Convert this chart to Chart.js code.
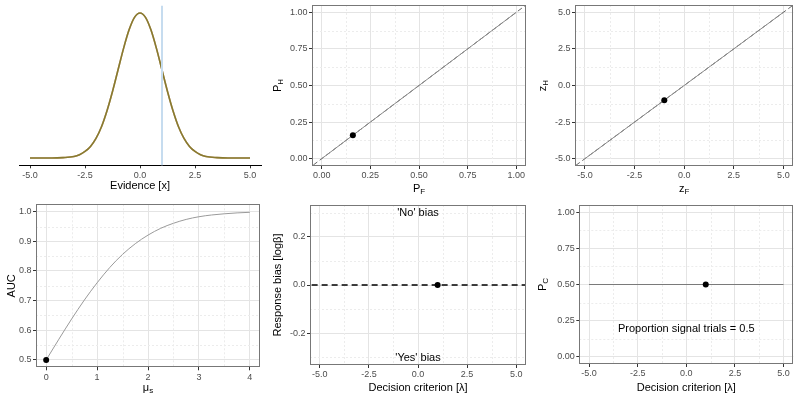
<!DOCTYPE html>
<html lang="en">
<head>
  <meta charset="UTF-8">
  <title>SDT panels</title>
  <style>
    html, body { margin: 0; padding: 0; background: #fff; }
    body { width: 800px; height: 400px; position: relative; overflow: hidden; }
    .panel { position: absolute; }
  </style>
</head>
<body>
  <div class="panel" style="left:0;top:0;width:265px;height:200px"><canvas id="density"></canvas></div>
  <div class="panel" style="left:265px;top:0;width:265px;height:200px"><canvas id="roc"></canvas></div>
  <div class="panel" style="left:530px;top:0;width:270px;height:200px"><canvas id="zroc"></canvas></div>
  <div class="panel" style="left:0;top:200px;width:265px;height:200px"><canvas id="auc"></canvas></div>
  <div class="panel" style="left:265px;top:200px;width:265px;height:200px"><canvas id="bias"></canvas></div>
  <div class="panel" style="left:530px;top:200px;width:270px;height:200px"><canvas id="pc"></canvas></div>

  <script src="https://cdn.jsdelivr.net/npm/chart.js@4.4.0/dist/chart.umd.min.js"></script>
  <script>
    // evidence distributions (noise and signal sit on top of each other, d' = 0)
    const evidence = [-5, -4, -3.5, -3, -2.75, -2.5, -2.25, -2, -1.75, -1.5, -1.25, -1, -0.75, -0.5, -0.25, 0, 0.25, 0.5, 0.75, 1, 1.25, 1.5, 1.75, 2, 2.25, 2.5, 2.75, 3, 3.5, 4, 5];
    const noiseDensity = [0, 0, 0.001, 0.004, 0.009, 0.018, 0.032, 0.054, 0.086, 0.130, 0.183, 0.242, 0.301, 0.352, 0.387, 0.399, 0.387, 0.352, 0.301, 0.242, 0.183, 0.130, 0.086, 0.054, 0.032, 0.018, 0.009, 0.004, 0.001, 0, 0];
    const signalDensity = [0, 0, 0.001, 0.004, 0.009, 0.018, 0.032, 0.054, 0.086, 0.130, 0.183, 0.242, 0.301, 0.352, 0.387, 0.399, 0.387, 0.352, 0.301, 0.242, 0.183, 0.130, 0.086, 0.054, 0.032, 0.018, 0.009, 0.004, 0.001, 0, 0];
    const criterion = 1;

    // ROC and zROC
    const rocPF = [0, 1];
    const rocPH = [0, 1];
    const zrocF = [-5, 5];
    const zrocH = [-5, 5];
    const identity = [-10, 10];
    const pointPF = 0.16, pointPH = 0.16;
    const pointZF = -1, pointZH = -1;

    // AUC against mu_s
    const muS = [0, 0.25, 0.5, 0.75, 1, 1.25, 1.5, 1.75, 2, 2.25, 2.5, 2.75, 3, 3.25, 3.5, 3.75, 4];
    const aucValues = [0.5, 0.570, 0.638, 0.702, 0.760, 0.812, 0.856, 0.892, 0.921, 0.944, 0.961, 0.974, 0.983, 0.989, 0.993, 0.996, 0.998];
    const pointMu = 0, pointAuc = 0.5;

    // response bias and proportion correct against lambda
    const lambdaRange = [-5, 5];
    const logBeta = 0;
    const pcValues = [0.5, 0.5];
    const pointLogBeta = 0, pointPc = 0.5;

    // ticks
    const evidenceTicks = [-5, -2.5, 0, 2.5, 5];
    const evidenceLabels = ['-5.0', '-2.5', '0.0', '2.5', '5.0'];
    const evidenceMinor = [-3.75, -1.25, 1.25, 3.75];
    const probTicks = [0, 0.25, 0.5, 0.75, 1];
    const probLabels = ['0.00', '0.25', '0.50', '0.75', '1.00'];
    const probMinor = [0.125, 0.375, 0.625, 0.875];
    const muTicks = [0, 1, 2, 3, 4];
    const muLabels = ['0', '1', '2', '3', '4'];
    const muMinor = [0.5, 1.5, 2.5, 3.5];
    const aucTicks = [0.5, 0.6, 0.7, 0.8, 0.9, 1.0];
    const aucLabels = ['0.5', '0.6', '0.7', '0.8', '0.9', '1.0'];
    const aucMinor = [0.55, 0.65, 0.75, 0.85, 0.95];
    const biasTicks = [-0.2, 0, 0.2];
    const biasLabels = ['-0.2', '0.0', '0.2'];
    const biasMinor = [-0.3, -0.1, 0.1, 0.3];

    const FONT = '"Liberation Sans", Arial, sans-serif';
    Chart.defaults.font.family = FONT;
    Chart.defaults.animation = false;

    const xy = (xs, ys) => xs.map((x, i) => ({ x, y: ys[i] }));

    function axis(a, size, horizontal) {
      return {
        type: 'linear',
        min: a.min,
        max: a.max,
        afterBuildTicks: s => { s.ticks = a.ticks.map(v => ({ value: v })); },
        afterFit: s => {
          if (horizontal) s.height = size; else s.width = size;
          s.paddingTop = 0; s.paddingBottom = 0; s.paddingLeft = 0; s.paddingRight = 0;
        },
        grid: {
          display: true,
          drawOnChartArea: !a.bare,
          color: '#e4e4e4',
          lineWidth: 1,
          tickLength: 3,
          tickColor: '#333'
        },
        border: a.bare ? { display: true, color: '#000', width: 1 } : { display: false },
        ticks: {
          autoSkip: false,
          maxRotation: 0,
          color: '#4d4d4d',
          font: { size: 9 },
          padding: 1.5,
          callback: (v, i) => a.labels[i]
        }
      };
    }

    function drawTitle(ctx, parts, x, y, rotate) {
      const [main, sub] = parts;
      ctx.save();
      ctx.translate(x, y);
      if (rotate) ctx.rotate(-Math.PI / 2);
      ctx.font = '11px ' + FONT;
      const w1 = ctx.measureText(main).width;
      ctx.font = '8px ' + FONT;
      const w2 = sub ? ctx.measureText(sub).width : 0;
      const start = -(w1 + w2) / 2;
      ctx.fillStyle = '#000';
      ctx.textAlign = 'left';
      ctx.textBaseline = 'middle';
      ctx.font = '11px ' + FONT;
      ctx.fillText(main, start, 0);
      if (sub) {
        ctx.font = '8px ' + FONT;
        ctx.fillText(sub, start + w1, 3);
      }
      ctx.restore();
    }

    function panel(id, cfg) {
      const extras = {
        id: 'extras',
        beforeDatasetsDraw(chart) {
          const { ctx, chartArea: ca, scales } = chart;
          ctx.save();
          ctx.strokeStyle = '#ececec';
          ctx.lineWidth = 1;
          ctx.setLineDash([2, 2]);
          (cfg.x.minor || []).forEach(v => {
            const px = Math.round(scales.x.getPixelForValue(v)) + 0.5;
            ctx.beginPath(); ctx.moveTo(px, ca.top); ctx.lineTo(px, ca.bottom); ctx.stroke();
          });
          (cfg.y.minor || []).forEach(v => {
            const py = Math.round(scales.y.getPixelForValue(v)) + 0.5;
            ctx.beginPath(); ctx.moveTo(ca.left, py); ctx.lineTo(ca.right, py); ctx.stroke();
          });
          ctx.restore();
        },
        afterDatasetsDraw(chart) {
          if (!cfg.frame) return;
          const { ctx, chartArea: ca } = chart;
          ctx.save();
          ctx.strokeStyle = '#777';
          ctx.lineWidth = 1;
          ctx.strokeRect(Math.round(ca.left) + 0.5, Math.round(ca.top) + 0.5,
            Math.round(ca.right - ca.left) - 1, Math.round(ca.bottom - ca.top) - 1);
          ctx.restore();
        },
        afterDraw(chart) {
          const { ctx, chartArea: ca, scales } = chart;
          if (cfg.xTitle) drawTitle(ctx, cfg.xTitle, (ca.left + ca.right) / 2, scales.x.bottom - 7, false);
          if (cfg.yTitle) drawTitle(ctx, cfg.yTitle, scales.y.left + 7, (ca.top + ca.bottom) / 2, true);
          (cfg.notes || []).forEach(n => {
            ctx.save();
            ctx.font = '11px ' + FONT;
            ctx.fillStyle = '#000';
            ctx.textAlign = 'center';
            ctx.textBaseline = 'middle';
            ctx.fillText(n.text, scales.x.getPixelForValue(n.x), scales.y.getPixelForValue(n.y));
            ctx.restore();
          });
        }
      };

      new Chart(document.getElementById(id), {
        type: 'scatter',
        data: { datasets: cfg.datasets },
        options: {
          responsive: true,
          maintainAspectRatio: false,
          layout: { padding: cfg.pad },
          plugins: { legend: { display: false }, tooltip: { enabled: false } },
          scales: {
            x: axis(cfg.x, cfg.xHeight, true),
            y: cfg.y.hidden
              ? { display: false, min: cfg.y.min, max: cfg.y.max }
              : axis(cfg.y, cfg.yWidth, false)
          }
        },
        plugins: [extras]
      });
    }

    const line = (data, color, width, dash) => ({
      data, showLine: true, pointRadius: 0, borderColor: color, borderWidth: width,
      borderDash: dash || [], clip: 0
    });
    const dot = (x, y) => ({ data: [{ x, y }], pointRadius: 3, backgroundColor: '#000', borderWidth: 0 });

    // 1. evidence distributions
    panel('density', {
      pad: { left: 19, top: 5.7, right: 4, bottom: 7 },
      xHeight: 27.7,
      x: { min: -5.5, max: 5.5, ticks: evidenceTicks, labels: evidenceLabels, bare: true },
      y: { hidden: true, min: -0.02, max: 0.419 },
      xTitle: ['Evidence [x]'],
      datasets: [
        line(xy([criterion, criterion], [-1, 1]), '#c6dcef', 2),
        Object.assign(line(xy(evidence, signalDensity), 'rgba(110,135,40,0.6)', 1.6), { cubicInterpolationMode: 'monotone' }),
        Object.assign(line(xy(evidence, noiseDensity), '#b06a3b', 1.6), { cubicInterpolationMode: 'monotone' })
      ]
    });

    // 2. ROC
    panel('roc', {
      pad: { left: 5.7, top: 5, right: 2.7, bottom: 4 },
      yWidth: 41.3, xHeight: 30, frame: true,
      x: { min: -0.05, max: 1.05, ticks: probTicks, labels: probLabels, minor: probMinor },
      y: { min: -0.05, max: 1.05, ticks: probTicks, labels: probLabels, minor: probMinor },
      xTitle: ['P', 'F'], yTitle: ['P', 'H'],
      datasets: [
        dot(pointPF, pointPH),
        line(xy(rocPF, rocPH), '#8a8a8a', 1),
        line(xy(identity, identity), '#666', 1, [5, 3])
      ]
    });

    // 3. zROC
    panel('zroc', {
      pad: { left: 5.7, top: 5, right: 6.7, bottom: 4 },
      yWidth: 39.3, xHeight: 30, frame: true,
      x: { min: -5.5, max: 5.5, ticks: evidenceTicks, labels: evidenceLabels, minor: evidenceMinor },
      y: { min: -5.5, max: 5.5, ticks: evidenceTicks, labels: evidenceLabels, minor: evidenceMinor },
      xTitle: ['z', 'F'], yTitle: ['z', 'H'],
      datasets: [
        dot(pointZF, pointZH),
        line(xy(zrocF, zrocH), '#8a8a8a', 1),
        line(xy(identity, identity), '#666', 1, [5, 3])
      ]
    });

    // 4. AUC
    panel('auc', {
      pad: { left: 4.7, top: 4.3, right: 5, bottom: 5.3 },
      yWidth: 31.3, xHeight: 27.4, frame: true,
      x: { min: -0.2, max: 4.2, ticks: muTicks, labels: muLabels, minor: muMinor },
      y: { min: 0.475, max: 1.025, ticks: aucTicks, labels: aucLabels, minor: aucMinor },
      xTitle: ['\u03bc', 's'], yTitle: ['AUC'],
      datasets: [
        dot(pointMu, pointAuc),
        Object.assign(line(xy(muS, aucValues), '#9a9a9a', 1), { cubicInterpolationMode: 'monotone' })
      ]
    });

    // 5. response bias
    panel('bias', {
      pad: { left: 5.7, top: 5, right: 1.7, bottom: 5.3 },
      yWidth: 39.3, xHeight: 29.7, frame: true,
      x: { min: -5.5, max: 5.5, ticks: evidenceTicks, labels: evidenceLabels, minor: evidenceMinor },
      y: { min: -0.333, max: 0.333, ticks: biasTicks, labels: biasLabels, minor: biasMinor },
      xTitle: ['Decision criterion [\u03bb]'], yTitle: ['Response bias [log\u03b2]'],
      notes: [{ text: "'No' bias", x: 0, y: 0.3 }, { text: "'Yes' bias", x: 0, y: -0.305 }],
      datasets: [
        dot(criterion, pointLogBeta),
        line(xy(identity, [logBeta, logBeta]), '#000', 1.5, [6, 4])
      ]
    });

    // 6. proportion correct
    panel('pc', {
      pad: { left: 5.7, top: 5, right: 6.7, bottom: 5 },
      yWidth: 43.6, xHeight: 31, frame: true,
      x: { min: -5.5, max: 5.5, ticks: evidenceTicks, labels: evidenceLabels, minor: evidenceMinor },
      y: { min: -0.05, max: 1.05, ticks: probTicks, labels: probLabels, minor: probMinor },
      xTitle: ['Decision criterion [\u03bb]'], yTitle: ['P', 'C'],
      notes: [{ text: 'Proportion signal trials = 0.5', x: 0, y: 0.19 }],
      datasets: [
        dot(criterion, pointPc),
        line(xy(lambdaRange, pcValues), '#7a7a7a', 1)
      ]
    });
  </script>
</body>
</html>
